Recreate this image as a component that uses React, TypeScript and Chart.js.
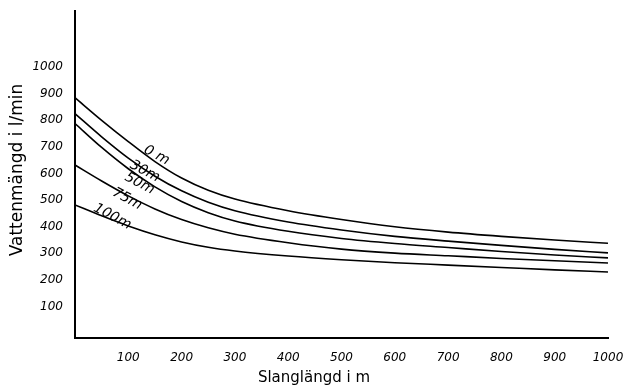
import { useEffect, useRef } from "react";
import { Chart, registerables } from "chart.js";
Chart.register(...registerables);

// Slanglängd (m)
const distances = [0, 50, 100, 150, 200, 250, 300, 400, 500, 600, 700, 800, 900, 1000];
// Vattenmängd (l/min) per höjdskillnad
const flow0m = [885, 800, 720, 645, 583, 537, 504, 460, 427, 400, 380, 364, 350, 338];
const flow30m = [825, 738, 658, 590, 535, 492, 460, 418, 388, 364, 346, 330, 315, 302];
const flow50m = [788, 698, 618, 550, 495, 453, 422, 383, 356, 337, 322, 307, 294, 283];
const flow75m = [632, 572, 516, 467, 427, 396, 372, 340, 316, 301, 291, 281, 272, 264];
const flow100m = [482, 441, 403, 370, 343, 323, 309, 290, 276, 265, 256, 247, 238, 230];

const seriesNames = ["0 m", "30m", "50m", "75m", "100m"];
const seriesValues = [flow0m, flow30m, flow50m, flow75m, flow100m];

const xTicks = [100, 200, 300, 400, 500, 600, 700, 800, 900, 1000];
const yTicks = [100, 200, 300, 400, 500, 600, 700, 800, 900, 1000];

const xTitle = "Slanglängd i m";
const yTitle = "Vattenmängd i l/min";

// label anchors in data units (distance, flow)
const labelAtX = [153, 131, 121, 98, 70];
const labelAtY = [668, 608, 562, 504, 438];

export default function App() {
  const ref = useRef<HTMLCanvasElement>(null);
  useEffect(() => {
    document.body.style.margin = "0";
    const canvas = ref.current!;
    const annot = {
      id: "annot",
      afterDraw(chart: any) {
        const c = chart.ctx as CanvasRenderingContext2D;
        const xs = chart.scales.x;
        const ys = chart.scales.y;
        c.save();
        c.fillStyle = "#000";
        c.textAlign = "center";
        c.textBaseline = "middle";
        c.font = 'italic 14px "DejaVu Sans"';
        seriesNames.forEach((t, i) => {
          c.save();
          c.translate(xs.getPixelForValue(labelAtX[i]), ys.getPixelForValue(labelAtY[i]));
          c.rotate((28 * Math.PI) / 180);
          c.fillText(t, 0, 0);
          c.restore();
        });
        c.font = '15px "DejaVu Sans"';
        c.fillText(xTitle, 314, 378);
        c.save();
        c.translate(18, 170);
        c.rotate(-Math.PI / 2);
        c.font = '17px "DejaVu Sans"';
        c.fillText(yTitle, 0, 0);
        c.restore();
        c.restore();
      },
    };
    const tickFont = { family: "DejaVu Sans", size: 12, style: "italic" as const };
    const chart = new Chart(canvas, {
      type: "line",
      data: {
        datasets: seriesNames.map((name, i) => ({
          label: name,
          data: distances.map((d, j) => ({ x: d, y: seriesValues[i][j] })),
          borderColor: "#000",
          borderWidth: 1.6,
          pointRadius: 0,
          fill: false,
          cubicInterpolationMode: "monotone" as const,
        })),
      },
      options: {
        animation: false,
        responsive: false,
        layout: { padding: { top: 11, right: 22, left: 0, bottom: 0 } },
        plugins: { legend: { display: false }, tooltip: { enabled: false } },
        scales: {
          x: {
            type: "linear",
            min: 0,
            max: 1000,
            grid: { display: false },
            border: { display: true, color: "#000", width: 2 },
            ticks: {
              color: "#000",
              font: tickFont,
              padding: 5,
              autoSkip: false,
              maxRotation: 0,
              callback: (v: any) => String(v),
            },
            afterBuildTicks: (axis: any) => {
              axis.ticks = xTicks.map((v) => ({ value: v }));
            },
            afterFit: (axis: any) => {
              axis.height = 52;
            },
          },
          y: {
            type: "linear",
            min: -18,
            max: 1210,
            grid: { display: false },
            border: { display: true, color: "#000", width: 2 },
            ticks: {
              color: "#000",
              font: tickFont,
              padding: 4,
              autoSkip: false,
              callback: (v: any) => String(v),
            },
            afterBuildTicks: (axis: any) => {
              axis.ticks = yTicks.map((v) => ({ value: v }));
            },
            afterFit: (axis: any) => {
              axis.width = 75;
            },
          },
        },
      },
      plugins: [annot],
    });
    return () => chart.destroy();
  }, []);
  return (
    <div style={{ width: 630, height: 390, background: "#fff" }}>
      <canvas ref={ref} width={630} height={390} />
    </div>
  );
}
